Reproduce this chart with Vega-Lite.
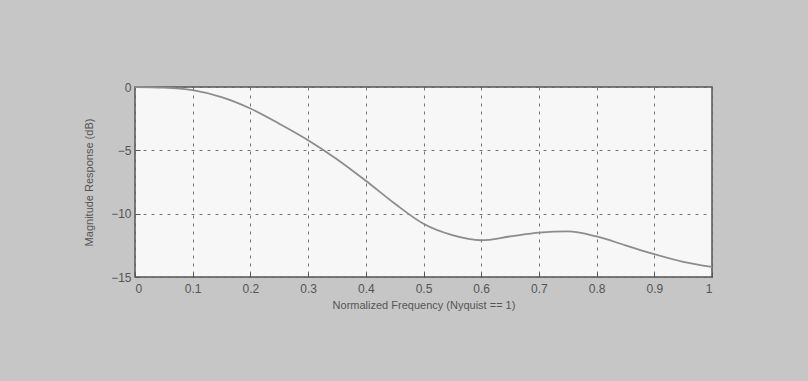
{
  "$schema": "https://vega.github.io/schema/vega-lite/v6.json",
  "autosize": {"type": "none"},
  "width": 577,
  "height": 190,
  "padding": {"left": 135, "top": 87, "right": 96, "bottom": 104},
  "background": "#c6c6c6",
  "config": {
    "view": {"fill": "#f7f7f7", "stroke": "#555555", "strokeWidth": 1.5},
    "font": "Liberation Sans",
    "axis": {
      "labelFont": "Liberation Sans",
      "titleFont": "Liberation Sans",
      "labelFontSize": 12,
      "titleFontSize": 11,
      "titleFontWeight": "normal",
      "labelColor": "#555555",
      "titleColor": "#555555",
      "domain": false,
      "tickColor": "#555555",
      "tickSize": -5,
      "gridColor": "#666666",
      "gridDash": [3, 5],
      "gridWidth": 1,
      "gridOpacity": 0.9
    }
  },
  "data": {
    "values": [
      {"f": 0.0, "db": 0.0},
      {"f": 0.05, "db": -0.05},
      {"f": 0.1, "db": -0.25},
      {"f": 0.15, "db": -0.8},
      {"f": 0.2, "db": -1.7},
      {"f": 0.25, "db": -2.9},
      {"f": 0.3, "db": -4.2},
      {"f": 0.35, "db": -5.7},
      {"f": 0.4, "db": -7.4},
      {"f": 0.45, "db": -9.2},
      {"f": 0.5, "db": -10.8},
      {"f": 0.55, "db": -11.7},
      {"f": 0.6, "db": -12.1},
      {"f": 0.65, "db": -11.8},
      {"f": 0.7, "db": -11.5},
      {"f": 0.75, "db": -11.4},
      {"f": 0.8, "db": -11.8},
      {"f": 0.85, "db": -12.5},
      {"f": 0.9, "db": -13.2},
      {"f": 0.95, "db": -13.8},
      {"f": 1.0, "db": -14.2}
    ]
  },
  "mark": {"type": "line", "color": "#8c8c8c", "strokeWidth": 1.8, "interpolate": "monotone"},
  "encoding": {
    "x": {
      "field": "f",
      "type": "quantitative",
      "scale": {"domain": [0, 1], "nice": false},
      "axis": {
        "values": [0, 0.1, 0.2, 0.3, 0.4, 0.5, 0.6, 0.7, 0.8, 0.9, 1],
        "format": ".1~f",
        "title": "Normalized Frequency (Nyquist == 1)",
        "labelPadding": 11,
        "titlePadding": 5
      }
    },
    "y": {
      "field": "db",
      "type": "quantitative",
      "scale": {"domain": [-15, 0], "nice": false},
      "axis": {
        "values": [-15, -10, -5, 0],
        "title": "Magnitude Response (dB)",
        "labelPadding": 9,
        "titlePadding": 16
      }
    }
  }
}
